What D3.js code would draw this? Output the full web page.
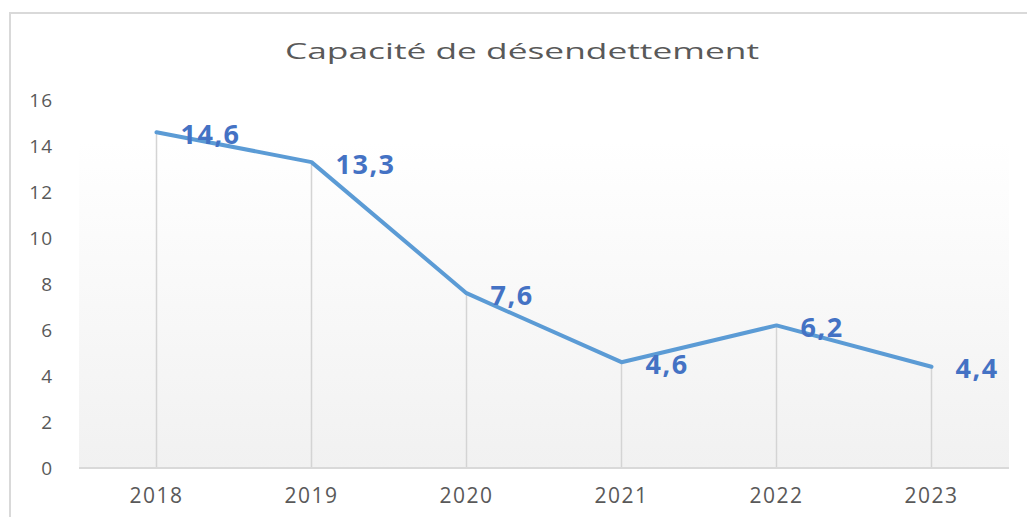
<!DOCTYPE html>
<html>
<head>
<meta charset="utf-8">
<script src="https://cdn.jsdelivr.net/npm/d3@7"></script>
<style>
  body { margin: 0; background: #fff; }
  svg { display: block; font-family: "Open Sans", sans-serif; }
</style>
</head>
<body>
<div id="chart"></div>
<script>
// data
const years = ["2018", "2019", "2020", "2021", "2022", "2023"];
const values = [14.6, 13.3, 7.6, 4.6, 6.2, 4.4];
const yTicks = [0, 2, 4, 6, 8, 10, 12, 14, 16];

const width = 1027, height = 517;
const margin = {top: 100, right: 18, bottom: 49, left: 79};

let svg = d3.select("#chart")
    .append("svg")
    .attr("width", width)
    .attr("height", height);

// background gradient for plot area
let defs = svg.append("defs");
let grad = defs.append("linearGradient")
    .attr("id", "bg")
    .attr("x1", 0).attr("y1", 0).attr("x2", 0).attr("y2", 1);
grad.append("stop").attr("offset", "0%").attr("stop-color", "#ffffff");
grad.append("stop").attr("offset", "100%").attr("stop-color", "#f1f1f1");

// outer border (only top/left visible in the crop)
svg.append("path")
    .attr("d", `M10,${height} L10,13 L${width},13`)
    .attr("fill", "none")
    .attr("stroke", "#d9d9d9")
    .attr("stroke-width", 2);

let x = d3.scaleBand()
    .domain(years)
    .range([margin.left, width - margin.right]);

let y = d3.scaleLinear()
    .domain([0, 16])
    .range([height - margin.bottom, margin.top]);

svg.append("rect")
    .attr("x", margin.left)
    .attr("y", y(14.2))
    .attr("width", x.range()[1] - margin.left)
    .attr("height", y(0) - y(14.2))
    .attr("fill", "url(#bg)");

// title
svg.append("text")
    .attr("x", 522)
    .attr("y", 59)
    .attr("text-anchor", "middle")
    .attr("textLength", 474)
    .attr("lengthAdjust", "spacingAndGlyphs")
    .style("font-size", "22px")
    .style("fill", "#595959")
    .text("Capacité de désendettement");

// y axis labels
svg.append("g")
    .selectAll("text")
    .data(yTicks)
    .enter()
    .append("text")
    .attr("x", 53)
    .attr("y", d => y(d))
    .attr("dy", "0.35em")
    .attr("text-anchor", "end")
    .style("font-size", "19px")
    .style("letter-spacing", "1px")
    .style("fill", "#595959")
    .text(d => d);

// drop lines
svg.append("g")
    .selectAll("line")
    .data(values)
    .enter()
    .append("line")
    .attr("x1", (d, i) => x(years[i]) + x.bandwidth() / 2)
    .attr("x2", (d, i) => x(years[i]) + x.bandwidth() / 2)
    .attr("y1", d => y(d))
    .attr("y2", y(0))
    .attr("stroke", "#d4d4d4")
    .attr("stroke-width", 1.5);

// x axis line
svg.append("line")
    .attr("x1", margin.left)
    .attr("x2", x.range()[1])
    .attr("y1", y(0))
    .attr("y2", y(0))
    .attr("stroke", "#d9d9d9")
    .attr("stroke-width", 2);

// x labels
svg.append("g")
    .selectAll("text")
    .data(years)
    .enter()
    .append("text")
    .attr("x", d => x(d) + x.bandwidth() / 2)
    .attr("y", 496)
    .attr("dy", "0.35em")
    .attr("text-anchor", "middle")
    .style("font-size", "21px")
    .style("letter-spacing", "1.5px")
    .style("fill", "#595959")
    .text(d => d);

// line
let line = d3.line()
    .x((d, i) => x(years[i]) + x.bandwidth() / 2)
    .y(d => y(d));

svg.append("path")
    .datum(values)
    .attr("d", line)
    .attr("fill", "none")
    .attr("stroke", "#5b9bd5")
    .attr("stroke-width", 4)
    .attr("stroke-linejoin", "round")
    .attr("stroke-linecap", "round");

// data labels
svg.append("g")
    .selectAll("text")
    .data(values)
    .enter()
    .append("text")
    .attr("x", (d, i) => x(years[i]) + x.bandwidth() / 2 + 24)
    .attr("y", d => y(d) + 2)
    .attr("dy", "0.35em")
    .style("font-size", "27px")
    .style("font-weight", "bold")
    .style("letter-spacing", "1.5px")
    .style("fill", "#4472c4")
    .text(d => d.toFixed(1).replace(".", ","));
</script>
</body>
</html>
